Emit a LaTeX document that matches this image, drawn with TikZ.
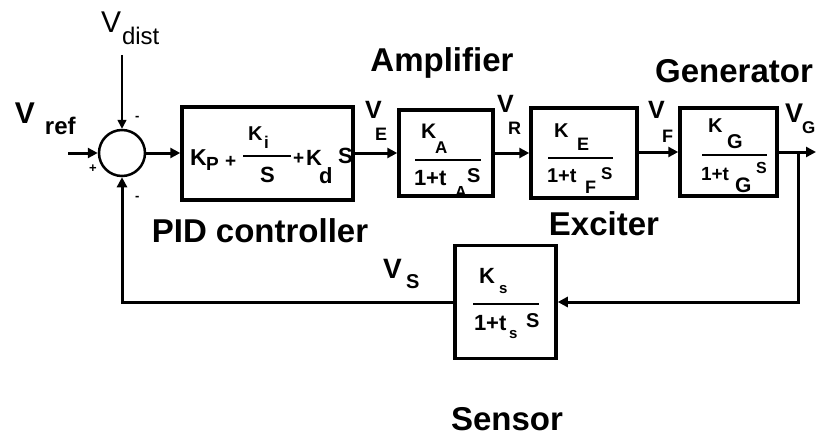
\documentclass[tikz,border=0pt]{standalone}
\usepackage{fontspec}
\setmainfont{Liberation Sans}
\usetikzlibrary{arrows.meta}
\newcommand\fs[1]{\fontsize{#1}{#1}\selectfont}
\begin{document}
\begin{tikzpicture}[x=1pt,y=-1pt,
  blk/.style={draw,line width=3.5pt,rectangle,inner sep=0},
  conn/.style={line width=3pt,-{Triangle[length=10pt,width=10pt]}},
  thinconn/.style={line width=1.5pt,-{Triangle[length=9pt,width=9pt]}},
  txt/.style={anchor=base west,inner sep=0,outer sep=0},
  btxt/.style={anchor=base west,inner sep=0,outer sep=0,font=\bfseries\fs{#1}},
  big/.style={anchor=base,inner sep=0,font=\bfseries\fs{33}},
  bar/.style={line width=1.5pt}]
\useasboundingbox (0,0) rectangle (817,436);

% blocks
\node[circle,draw,line width=2.5pt,minimum size=46pt,inner sep=0] (sum) at (122,153) {};
\node[blk,minimum width=171pt,minimum height=93pt] (pid) at (267.5,153.5) {};
\node[blk,minimum width=94pt,minimum height=86pt] (amp) at (446,153) {};
\node[blk,minimum width=106pt,minimum height=90pt] (exc) at (584,153) {};
\node[blk,minimum width=97pt,minimum height=88pt] (gen) at (728.5,152) {};
\node[blk,minimum width=101pt,minimum height=113pt] (sen) at (505.5,302) {};

% free ends
\coordinate (ref) at (68,153);
\coordinate (dist) at (122,55);
\coordinate (out) at (816,152);
\coordinate (j) at (798,152);

% connectors
\draw[conn] (ref) -- (sum.west);
\draw[thinconn] (dist) -- (sum.north);
\draw[conn] (sum.east) -- (sum.east -| pid.west);
\draw[conn] (pid.east |- amp.west) -- (amp.west);
\draw[conn] (amp.east) -- (exc.west);
\draw[conn] (exc.east |- gen.west) -- (gen.west);
\draw[conn] (gen.east) -- (out);
\draw[conn] (j) |- (sen.east);
\draw[conn] (sen.west) -| (sum.south);

% signs at summing junction
\node[btxt=13] (m1) at (135,121) {-};
\node[btxt=13] (p1) at (89,172) {+};
\node[btxt=13] (m2) at (135,200) {-};

% signal labels
\node[btxt=30] (vref) at (15,123) {V};
\node[btxt=24] (vrefs) at (45,134) {ref};
\node[txt,font=\fs{30}] (vd) at (101,33) {V};
\node[txt,font=\fs{24}] (vds) at (122,45) {dist};
\node[btxt=25] (ve) at (365,118) {V};
\node[btxt=18] (ves) at (375,140) {E};
\node[btxt=25] (vr) at (497,113) {V};
\node[btxt=18] (vrs) at (508,135) {R};
\node[btxt=25] (vf) at (648,118) {V};
\node[btxt=18] (vfs) at (662,142) {F};
\node[btxt=27] (vg) at (785,122) {V};
\node[btxt=17] (vgs) at (802,133) {G};
\node[btxt=28] (vs) at (383,278) {V};
\node[btxt=20] (vss) at (406,288) {S};

% block titles
\node[big] (tamp) at (442,72) {Amplifier};
\node[big] (tgen) at (734,82) {Generator};
\node[big] (tpid) at (260,242) {PID controller};
\node[big] (texc) at (604,235) {Exciter};
\node[big] (tsen) at (507,430) {Sensor};

% PID contents
\node[btxt=23] (k1) at (190,165) {K};
\node[btxt=19] (k1s) at (206,170) {P};
\node[btxt=19] (pl1) at (225,167) {+};
\node[btxt=20] (k2) at (248,140) {K};
\node[btxt=17] (k2s) at (264,148) {i};
\draw[bar] (243,156) -- (291,156);
\node[btxt=22] (s1) at (260,182) {S};
\node[btxt=19] (pl2) at (293,164) {+};
\node[btxt=22] (k3) at (306,165) {K};
\node[btxt=22] (k3s) at (319,183) {d};
\node[btxt=22] (s2) at (338,163) {S};

% Amplifier contents
\node[btxt=21] (ka) at (421,139) {K};
\node[btxt=17] (kas) at (435,153) {A};
\draw[bar] (415,160) -- (481,160);
\node[btxt=22] (ad) at (414,185) {1+t};
\node[btxt=16] (ads) at (455,197) {A};
\node[btxt=20] (ads2) at (467,182) {S};

% Exciter contents
\node[btxt=20] (ke) at (554,137) {K};
\node[btxt=18] (kes) at (577,150) {E};
\draw[bar] (548,158) -- (613,158);
\node[btxt=20] (ed) at (547,182) {1+t};
\node[btxt=18] (eds) at (585,193) {F};
\node[btxt=17] (eds2) at (601,179) {S};

% Generator contents
\node[btxt=20] (kg) at (708,132) {K};
\node[btxt=20] (kgs) at (727,148) {G};
\draw[bar] (702,155) -- (767,155);
\node[btxt=19] (gd) at (701,180) {1+t};
\node[btxt=21] (gds) at (735,192) {G};
\node[btxt=16] (gds2) at (756,173) {S};

% Sensor contents
\node[btxt=22] (ks) at (479,283) {K};
\node[btxt=15] (kss) at (499,293) {s};
\draw[bar] (473,304) -- (539,304);
\node[btxt=22] (sd) at (474,330) {1+t};
\node[btxt=15] (sds) at (509,338) {s};
\node[btxt=20] (sds2) at (526,327) {S};
\end{tikzpicture}
\end{document}
